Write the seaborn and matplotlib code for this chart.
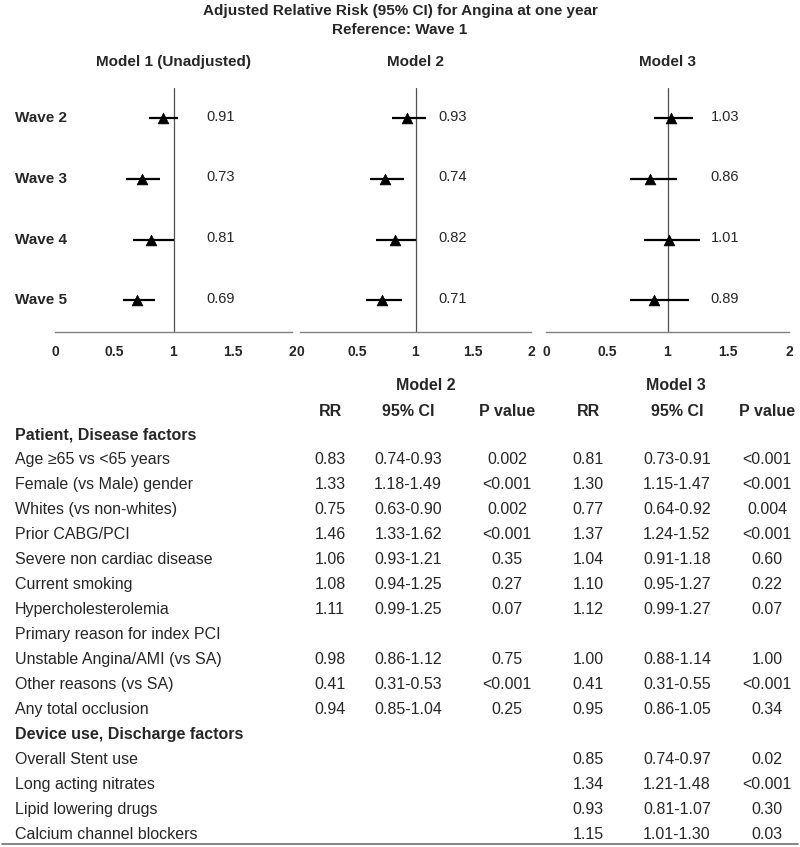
import matplotlib
matplotlib.use("Agg")
import matplotlib.pyplot as plt
import seaborn as sns
import pandas as pd
from matplotlib.transforms import blended_transform_factory

# ---------------- data ----------------
waves = ["Wave 2", "Wave 3", "Wave 4", "Wave 5"]

m1_rr = [0.91, 0.73, 0.81, 0.69]
m1_lo = [0.79, 0.60, 0.66, 0.57]
m1_hi = [1.04, 0.89, 1.00, 0.84]

m2_rr = [0.93, 0.74, 0.82, 0.71]
m2_lo = [0.80, 0.61, 0.66, 0.57]
m2_hi = [1.09, 0.90, 1.00, 0.88]

m3_rr = [1.03, 0.86, 1.01, 0.89]
m3_lo = [0.89, 0.69, 0.81, 0.69]
m3_hi = [1.21, 1.08, 1.27, 1.18]

model_titles = ["Model 1 (Unadjusted)", "Model 2", "Model 3"]
x_ticks = [0, 0.5, 1, 1.5, 2]
x_tick_labels = ["0", "0.5", "1", "1.5", "2"]

title = "Adjusted Relative Risk (95% CI) for Angina at one year"
subtitle = "Reference: Wave 1"

table_rows = [
    "Patient, Disease factors",
    "Age ≥65 vs <65 years",
    "Female (vs Male) gender",
    "Whites (vs non-whites)",
    "Prior CABG/PCI",
    "Severe non cardiac disease",
    "Current smoking",
    "Hypercholesterolemia",
    "Primary reason for index PCI",
    "Unstable Angina/AMI (vs SA)",
    "Other reasons (vs SA)",
    "Any total occlusion",
    "Device use, Discharge factors",
    "Overall Stent use",
    "Long acting nitrates",
    "Lipid lowering drugs",
    "Calcium channel blockers",
]
bold_rows = ["Patient, Disease factors", "Device use, Discharge factors"]

t2_rr = ["", "0.83", "1.33", "0.75", "1.46", "1.06", "1.08", "1.11", "", "0.98", "0.41", "0.94", "", "", "", "", ""]
t2_ci = ["", "0.74-0.93", "1.18-1.49", "0.63-0.90", "1.33-1.62", "0.93-1.21", "0.94-1.25", "0.99-1.25", "",
         "0.86-1.12", "0.31-0.53", "0.85-1.04", "", "", "", "", ""]
t2_p = ["", "0.002", "<0.001", "0.002", "<0.001", "0.35", "0.27", "0.07", "", "0.75", "<0.001", "0.25", "", "", "", "", ""]

t3_rr = ["", "0.81", "1.30", "0.77", "1.37", "1.04", "1.10", "1.12", "", "1.00", "0.41", "0.95", "",
         "0.85", "1.34", "0.93", "1.15"]
t3_ci = ["", "0.73-0.91", "1.15-1.47", "0.64-0.92", "1.24-1.52", "0.91-1.18", "0.95-1.27", "0.99-1.27", "",
         "0.88-1.14", "0.31-0.55", "0.86-1.05", "", "0.74-0.97", "1.21-1.48", "0.81-1.07", "1.01-1.30"]
t3_p = ["", "<0.001", "<0.001", "0.004", "<0.001", "0.60", "0.22", "0.07", "", "1.00", "<0.001", "0.34", "",
        "0.02", "<0.001", "0.30", "0.03"]

col_headers = ["RR", "95% CI", "P value", "RR", "95% CI", "P value"]
group_headers = ["Model 2", "Model 3"]

# ---------------- style ----------------
sns.set_style("white")
FAM = ["Liberation Sans", "DejaVu Sans"]
NARROW = ["Liberation Sans Narrow", "Liberation Sans", "DejaVu Sans"]
plt.rcParams["font.family"] = FAM

W, H = 800, 847
fig = plt.figure(figsize=(W / 100, H / 100), dpi=100)


def fx(x):
    return x / W


def fy(y):
    return 1 - y / H


# titles
fig.text(fx(400), fy(11), title, ha="center", va="center", fontsize=11, fontweight="bold")
fig.text(fx(400), fy(30), subtitle, ha="center", va="center", fontsize=11, fontweight="bold")

# ---------------- forest panels ----------------
panels = [
    (55, 292, m1_rr, m1_lo, m1_hi, 1.28),
    (300, 531, m2_rr, m2_lo, m2_hi, 1.195),
    (546, 789, m3_rr, m3_lo, m3_hi, 1.355),
]
ax_top, ax_bot = 88, 332

for i, (l, r, rr, lo, hi, lab_x) in enumerate(panels):
    ax = fig.add_axes([fx(l), fy(ax_bot), (r - l) / W, (ax_bot - ax_top) / H])
    df = pd.DataFrame({"wave": waves, "pos": range(len(waves)), "rr": rr, "lo": lo, "hi": hi})
    ax.hlines(df["pos"], df["lo"], df["hi"], color="black", lw=1.6, zorder=2)
    sns.scatterplot(data=df, x="rr", y="pos", marker="^", color="black", s=60,
                    edgecolor="black", linewidth=0.5, ax=ax, zorder=3, legend=False)
    ax.axvline(1, color="#505050", lw=0.9, zorder=1)
    for p, v in zip(df["pos"], df["rr"]):
        ax.text(lab_x, p - 0.03, f"{v:.2f}", ha="left", va="center", fontsize=10.5)
    ax.set_xlim(0, 2)
    ax.set_ylim(3.52, -0.5)
    ax.set_xticks(x_ticks)
    ax.set_xticklabels(x_tick_labels)
    ax.set_yticks([])
    ax.set_xlabel("")
    ax.set_ylabel("")
    for s in ["top", "right", "left"]:
        ax.spines[s].set_visible(False)
    ax.spines["bottom"].set_color("#808080")
    ax.spines["bottom"].set_linewidth(1.0)
    ax.tick_params(axis="x", direction="in", length=4, width=1, color="#808080", pad=9, labelsize=10)
    for t in ax.get_xticklabels():
        t.set_fontweight("bold")
        t.set_family(NARROW)
    ax.patch.set_alpha(0)
    fig.text(fx((l + r) / 2), fy(62), model_titles[i], ha="center", va="center",
             fontsize=11, fontweight="bold")
    if i == 0:
        tr = blended_transform_factory(fig.transFigure, ax.transData)
        for p, w in zip(df["pos"], waves):
            fig.text(fx(15), p, w, transform=tr, ha="left", va="center",
                     fontsize=11, fontweight="bold")

# ---------------- table ----------------
TS = 11.5
fig.text(fx(426), fy(385), group_headers[0], ha="center", va="center", fontsize=TS, fontweight="bold")
fig.text(fx(676), fy(385), group_headers[1], ha="center", va="center", fontsize=TS, fontweight="bold")
col_x = [330, 408, 507, 588, 677, 767]
for cx, h in zip(col_x, col_headers):
    fig.text(fx(cx), fy(411), h, ha="center", va="center", fontsize=TS, fontweight="bold")

row0, step = 435, 24.94
cols = [t2_rr, t2_ci, t2_p, t3_rr, t3_ci, t3_p]
for j, name in enumerate(table_rows):
    y = row0 + j * step
    fig.text(fx(15), fy(y), name, ha="left", va="center", fontsize=TS,
             fontweight="bold" if name in bold_rows else "normal")
    for cx, col in zip(col_x, cols):
        if col[j]:
            fig.text(fx(cx), fy(y), col[j], ha="center", va="center", fontsize=TS)

fig.add_artist(plt.Line2D([fx(2), fx(798)], [fy(844), fy(844)], color="#707070", lw=1.2))

fig.savefig("out.png", dpi=100)
